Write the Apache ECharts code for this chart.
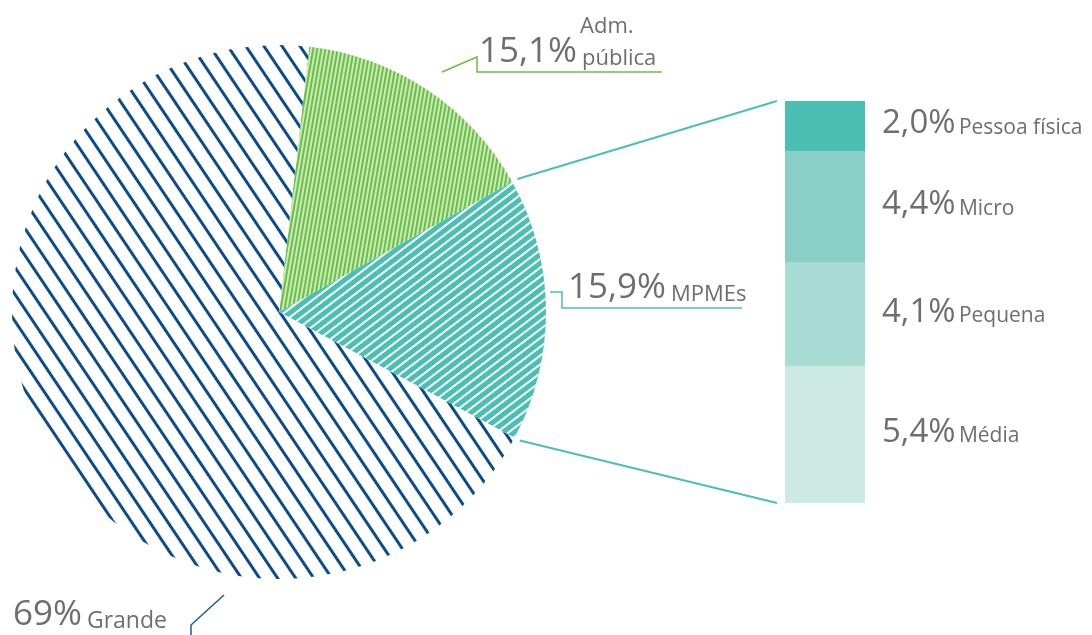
<!DOCTYPE html>
<html><head><meta charset="utf-8">
<script src="https://cdn.jsdelivr.net/npm/echarts@6/dist/echarts.min.js"></script>
<style>html,body{margin:0;padding:0;background:#fff}#c{width:1092px;height:635px}</style>
</head><body><div id="c"></div>
<script>
// ---- data ----
const pieNames = ['Adm. pública', 'MPMEs', 'Grande'];
const pieValues = [15.1, 15.9, 69];
const barNames = ['Média', 'Pequena', 'Micro', 'Pessoa física'];
const barValues = [5.4, 4.1, 4.4, 2.0];

// ---- styles ----
const TEXT = '#6d6e71';
const FONT = '"Open Sans", sans-serif';
const TEAL = '#4cbfb4';
const pieFill = ['#cbe9b8', TEAL, '#ffffff'];
const pieDecal = [
  { symbol: 'rect', symbolSize: 1, dashArrayX: [1, 0], dashArrayY: [2, 2], rotation: -1.40, color: '#6abf47' },
  { symbol: 'rect', symbolSize: 1, dashArrayX: [1, 0], dashArrayY: [2, 5], rotation: -0.65, color: '#ffffff' },
  { symbol: 'rect', symbolSize: 1, dashArrayX: [1, 0], dashArrayY: [3, 12], rotation: 0.98, color: '#0b4c8c' }
];
const pieLineColor = ['#6abf47', TEAL, '#1d5c9c'];
const barColors = ['#cce9e4', '#aadcd6', '#8acfc7', '#4bbfb4'];

function pct(v, fixed) { return ((!fixed && Number.isInteger(v)) ? String(v) : v.toFixed(1).replace('.', ',')) + '%'; }

const meas = document.createElement('canvas').getContext('2d');
function textW(str, size) { meas.font = size + 'px "Open Sans", sans-serif'; return meas.measureText(str).width; }

const PIE_BIG = 35, PIE_SMALL = 22;
const pieRich = {
  b: { fontSize: PIE_BIG, fontFamily: FONT, color: TEXT, verticalAlign: 'bottom', lineHeight: 32, padding: [0, 5, 0, 0] },
  s: { fontSize: PIE_SMALL, fontFamily: FONT, color: TEXT, verticalAlign: 'bottom', lineHeight: 32 },
  t: { fontSize: PIE_SMALL, fontFamily: FONT, color: TEXT, verticalAlign: 'bottom', lineHeight: 20 },
  g: { fontSize: PIE_SMALL + 1, fontFamily: FONT, color: TEXT, verticalAlign: 'bottom', lineHeight: 40 }
};

// label anchors and leader-line routing (layout only)
const pieLabelLayout = [
  { x: 479, y: 70, line: [[442, 72], [477, 57], [477, 72], [662, 72]] },
  { x: 568, y: 306, line: [[550, 292], [562, 292], [562, 308], [742, 308]] },
  { x: 13, y: 633, line: [[224, 595], [191, 625], [191, 640]] }
];

const chart = echarts.init(document.getElementById('c'), null, { renderer: 'canvas' });

const total = barValues.reduce((a, b) => a + b, 0);

const option = {
  animation: false,
  backgroundColor: '#ffffff',
  grid: { left: 785, top: 101, width: 80, height: 402 },
  xAxis: { type: 'category', data: [''], show: false },
  yAxis: { type: 'value', min: 0, max: total, show: false },
  series: [
    {
      type: 'pie',
      center: [279, 312],
      radius: 267,
      startAngle: 83.5,
      clockwise: true,
      avoidLabelOverlap: false,
      silent: true,
      data: pieNames.map((n, i) => ({
        name: n, value: pieValues[i],
        itemStyle: { color: pieFill[i], decal: pieDecal[i] },
        labelLine: { lineStyle: { color: pieLineColor[i] } }
      })),
      label: {
        show: true,
        position: 'outside',
        formatter: function (p) {
          const parts = p.name.split(' ');
          if (parts.length > 1) {
            return '{sp|}{t|' + parts[0] + '}\n{b|' + pct(p.value) + '}{s|' + parts.slice(1).join(' ') + '}';
          }
          return '{b|' + pct(p.value) + '}{' + (p.dataIndex === 2 ? 'g' : 's') + '|' + p.name + '}';
        },
        rich: Object.assign({}, pieRich, { sp: { width: textW(pct(pieValues[0]), PIE_BIG) + 3, lineHeight: 20 } })
      },
      labelLine: { show: true, length: 10, length2: 10, smooth: false, lineStyle: { width: 1.5 } },
      labelLayout: function (p) {
        const L = pieLabelLayout[p.dataIndex];
        return { x: L.x, y: L.y, align: 'left', verticalAlign: 'bottom', labelLinePoints: L.line };
      }
    }
  ].concat(barNames.map((n, i) => ({
    type: 'bar',
    name: n,
    stack: 'mpme',
    data: [barValues[i]],
    barWidth: '100%',
    silent: true,
    itemStyle: { color: barColors[i] },
    label: {
      show: true,
      position: 'right',
      distance: 17,
      formatter: function (p) { return '{b|' + pct(p.value, true) + '} {s|' + p.seriesName + '}'; },
      rich: {
        b: { fontSize: 33, fontFamily: FONT, color: TEXT, verticalAlign: 'bottom', lineHeight: 40, padding: [0, 0, 6, 0] },
        s: { fontSize: 21, fontFamily: FONT, color: TEXT, verticalAlign: 'bottom', lineHeight: 40, padding: [0, 0, 8, 0] }
      }
    }
  })))
};

chart.setOption(option);

// connector lines from MPMEs slice edges to the stacked bar
(function () {
  const pieSeries = chart.getModel().getSeriesByIndex(0);
  const lay = pieSeries.getData().getItemLayout(1);
  const barLay = chart.getModel().getSeriesByIndex(1).getData().getItemLayout(0);
  const topPx = chart.convertToPixel({ gridIndex: 0 }, [0, total]);
  const botPx = chart.convertToPixel({ gridIndex: 0 }, [0, 0]);
  const bx = barLay.x - 8;
  const a1 = Math.min(lay.startAngle, lay.endAngle), a2 = Math.max(lay.startAngle, lay.endAngle);
  const r = lay.r + 6;
  const p1 = [lay.cx + r * Math.cos(a1), lay.cy + r * Math.sin(a1)];
  const p2 = [lay.cx + r * Math.cos(a2), lay.cy + r * Math.sin(a2)];
  chart.setOption({
    graphic: [
      { type: 'line', silent: true, shape: { x1: p1[0], y1: p1[1], x2: bx, y2: topPx[1] }, style: { stroke: TEAL, lineWidth: 2 } },
      { type: 'line', silent: true, shape: { x1: p2[0], y1: p2[1], x2: bx, y2: botPx[1] }, style: { stroke: TEAL, lineWidth: 2 } }
    ]
  });
})();
</script>
</body></html>
